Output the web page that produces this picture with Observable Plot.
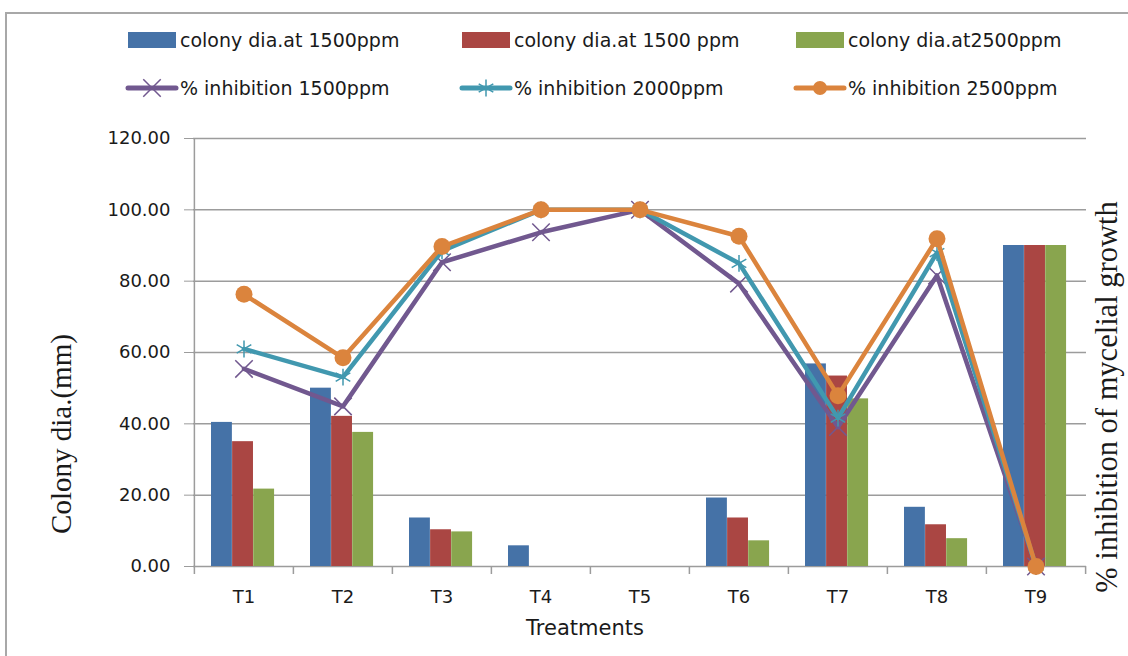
<!DOCTYPE html>
<html><head><meta charset="utf-8">
<script src="https://cdn.jsdelivr.net/npm/d3@7"></script>
<script src="https://cdn.jsdelivr.net/npm/@observablehq/plot@0.6"></script>
<style>
body{margin:0;background:#fff;}
#wrap{position:relative;width:1128px;height:656px;overflow:hidden;font-family:"DejaVu Sans",sans-serif;color:#1a1a1a;}
#frame{position:absolute;left:5px;top:12px;width:1140px;height:660px;border-left:2px solid #a8a8a8;border-top:2px solid #a8a8a8;}
#chart{position:absolute;left:0;top:0;}
.lg{position:absolute;font-size:19px;line-height:1;white-space:nowrap;transform:translateY(-50%);}
.sw{position:absolute;}
.ttl{position:absolute;white-space:nowrap;transform:translate(-50%,-50%);}
.rot{transform:translate(-50%,-50%) rotate(-90deg);font-family:"Liberation Serif","Times New Roman",serif;font-size:29px;}
#chart svg [aria-label^="y-axis"] line, #chart svg [aria-label^="y-axis"] path{stroke:#9c9c9c;}
</style></head>
<body><div id="wrap"><div id="frame"></div><div id="chart"></div></div>
<script>
// ---- data ----
const treatments = ["T1","T2","T3","T4","T5","T6","T7","T8","T9"];
const colonyDia1500 = [40.4, 50.0, 13.6, 5.8, 0, 19.2, 56.8, 16.6, 90.0];
const colonyDia1500b = [35.0, 42.1, 10.3, 0, 0, 13.6, 53.4, 11.7, 90.0];
const colonyDia2500 = [21.7, 37.6, 9.7, 0, 0, 7.2, 47.0, 7.8, 90.0];
const inhibition1500 = [55.4, 44.9, 85.3, 93.7, 100, 79.3, 39.1, 81.6, 0];
const inhibition2000 = [61.0, 53.1, 88.5, 100, 100, 85.0, 41.6, 88.0, 0];
const inhibition2500 = [76.3, 58.5, 89.7, 100, 100, 92.6, 47.9, 91.9, 0];
const yTicks = [0, 20, 40, 60, 80, 100, 120];
const barNames = ["colony dia.at 1500ppm", "colony dia.at 1500 ppm", "colony dia.at2500ppm"];
const lineNames = ["% inhibition 1500ppm", "% inhibition 2000ppm", "% inhibition 2500ppm"];
const yTitle = "Colony dia.(mm)";
const y2Title = "% inhibition of mycelial growth";
const xTitle = "Treatments";

// ---- styling ----
const barColors = ["#4572A7", "#AA4643", "#89A54E"];
const lineColors = ["#71588F", "#4198AF", "#DB843D"];
const symbols = ["times", "asterisk", "circle"];
const W = 1128, H = 656, mL = 193, mR = 42, mT = 138, mB = 90;
const bw = (W - mL - mR) / treatments.length;
const barOff = 17, barW = 21.1;
const gridColor = "#9c9c9c";

const barSeries = [colonyDia1500, colonyDia1500b, colonyDia2500];
const lineSeries = [inhibition1500, inhibition2000, inhibition2500];
const rows = treatments.map((t, i) => ({
  t,
  b0: barSeries[0][i], b1: barSeries[1][i], b2: barSeries[2][i],
  l0: lineSeries[0][i], l1: lineSeries[1][i], l2: lineSeries[2][i]
}));

const marks = [
  Plot.ruleY(yTicks, {stroke: gridColor, strokeWidth: 1.5}),
  ...barSeries.map((s, k) => Plot.barY(rows, {
    x: "t", y: "b" + k, fill: barColors[k],
    insetLeft: barOff + barW * k, insetRight: bw - barOff - barW * (k + 1)
  })),
  // y-axis line at left edge of first band
  Plot.ruleX([treatments[0]], {x: d => d, dx: -bw / 2, stroke: gridColor, strokeWidth: 1.5}),
  // category boundary ticks
  Plot.ruleX(treatments, {x: d => d, y1: 0, y2: 0, dx: -bw / 2, insetBottom: -8, stroke: gridColor, strokeWidth: 1.5}),
  Plot.ruleX([treatments[treatments.length - 1]], {x: d => d, y1: 0, y2: 0, dx: bw / 2, insetBottom: -8, stroke: gridColor, strokeWidth: 1.5})
];
lineSeries.forEach((s, k) => {
  marks.push(Plot.line(rows, {x: "t", y: "l" + k, stroke: lineColors[k], strokeWidth: 4.5, strokeLinejoin: "round"}));
  if (symbols[k] === "circle") {
    marks.push(Plot.dot(rows, {x: "t", y: "l" + k, r: 8.5, fill: lineColors[k], stroke: null}));
  } else {
    marks.push(Plot.dot(rows, {x: "t", y: "l" + k, r: 8, symbol: symbols[k], stroke: lineColors[k], strokeWidth: 1.5}));
  }
});

const chart = Plot.plot({
  width: W, height: H,
  marginLeft: mL, marginRight: mR, marginTop: mT, marginBottom: mB,
  style: {fontFamily: "DejaVu Sans, sans-serif", fontSize: "18px", color: "#1a1a1a", background: "transparent"},
  x: {type: "band", domain: treatments, padding: 0, tickSize: 0, tickPadding: 24, label: null},
  y: {domain: [0, 120], ticks: yTicks, tickFormat: d => d.toFixed(2), tickSize: 9, tickPadding: 14, label: null},
  marks
});
document.getElementById("chart").appendChild(chart);

// ---- legend ----
const wrap = document.getElementById("wrap");
const colX = [128, 462, 796];
const rowY = [40, 88];
barNames.forEach((name, k) => {
  const sw = document.createElement("div");
  sw.className = "sw";
  Object.assign(sw.style, {left: colX[k] + "px", top: (rowY[0] - 8) + "px", width: "48px", height: "16px", background: barColors[k]});
  wrap.appendChild(sw);
  const tx = document.createElement("div");
  tx.className = "lg"; tx.textContent = name;
  Object.assign(tx.style, {left: (colX[k] + 52) + "px", top: rowY[0] + "px"});
  wrap.appendChild(tx);
});
lineNames.forEach((name, k) => {
  const ns = "http://www.w3.org/2000/svg";
  const svg = document.createElementNS(ns, "svg");
  svg.setAttribute("width", 48); svg.setAttribute("height", 24);
  svg.setAttribute("class", "sw");
  Object.assign(svg.style, {left: colX[k] + "px", top: (rowY[1] - 12) + "px", overflow: "visible"});
  const ln = document.createElementNS(ns, "line");
  ln.setAttribute("x1", 0); ln.setAttribute("x2", 48); ln.setAttribute("y1", 12); ln.setAttribute("y2", 12);
  ln.setAttribute("stroke", lineColors[k]); ln.setAttribute("stroke-width", 5); ln.setAttribute("stroke-linecap", "round");
  svg.appendChild(ln);
  const p = document.createElementNS(ns, "path");
  const sym = {times: d3.symbolTimes, asterisk: d3.symbolAsterisk, circle: d3.symbolCircle}[symbols[k]];
  p.setAttribute("d", d3.symbol(sym, symbols[k] === "circle" ? Math.PI * 7 * 7 : Math.PI * 8 * 8)());
  p.setAttribute("transform", "translate(24,12)");
  if (symbols[k] === "circle") p.setAttribute("fill", lineColors[k]);
  else { p.setAttribute("fill", "none"); p.setAttribute("stroke", lineColors[k]); p.setAttribute("stroke-width", 1.5); }
  svg.appendChild(p);
  wrap.appendChild(svg);
  const tx = document.createElement("div");
  tx.className = "lg"; tx.textContent = name;
  Object.assign(tx.style, {left: (colX[k] + 52) + "px", top: rowY[1] + "px"});
  wrap.appendChild(tx);
});

// ---- axis titles ----
function title(text, x, y, cls, extra) {
  const d = document.createElement("div");
  d.className = "ttl " + (cls || ""); d.textContent = text;
  Object.assign(d.style, {left: x + "px", top: y + "px"}, extra || {});
  wrap.appendChild(d);
}
title(yTitle, 61, 434, "rot");
title(y2Title, 1107, 397, "rot", {fontSize: "30.5px"});
title(xTitle, 585, 628, "", {fontSize: "21px"});
</script>
</body></html>
